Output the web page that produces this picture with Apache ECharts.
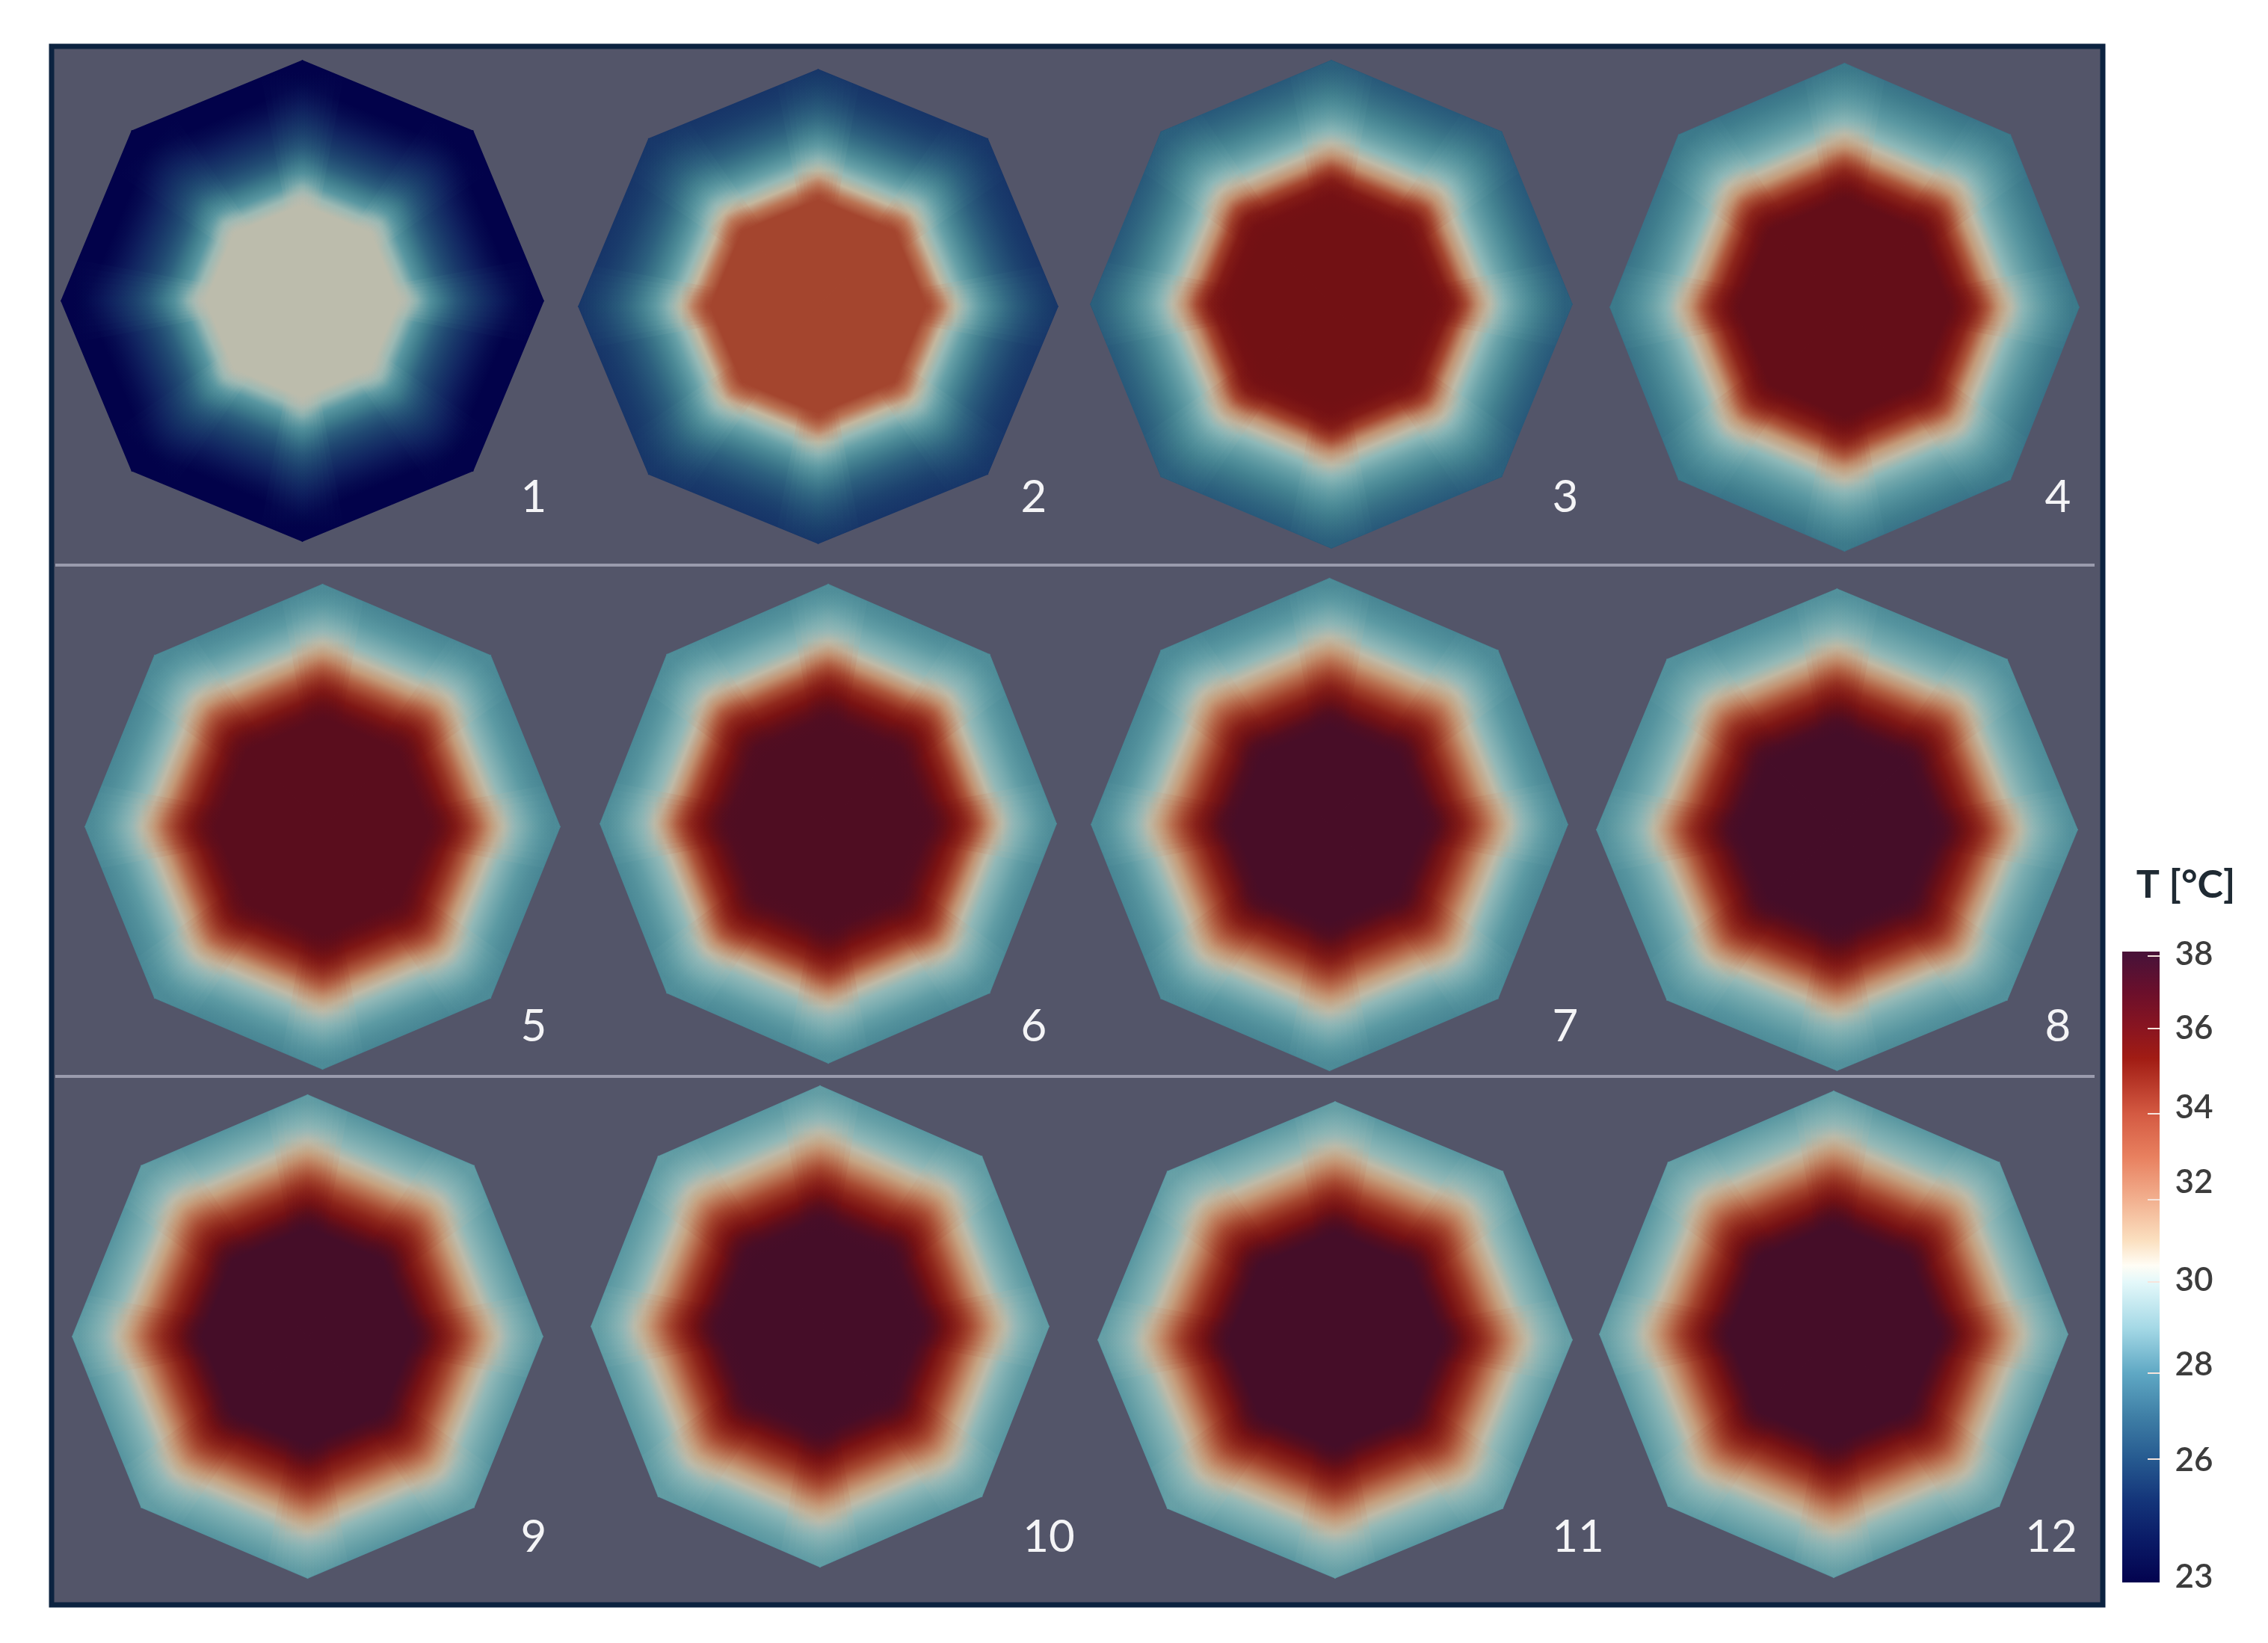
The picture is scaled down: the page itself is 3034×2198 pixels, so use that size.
<!DOCTYPE html>
<html>
<head>
<meta charset="utf-8">
<style>
  html, body { margin: 0; background: #fff; }
  #main { width: 3034px; height: 2198px; }
</style>
<script src="https://cdn.jsdelivr.net/npm/echarts@6/dist/echarts.min.js"></script>
</head>
<body>
<div id="main"></div>
<script>
const panelNames = ['1', '2', '3', '4', '5', '6', '7', '8', '9', '10', '11', '12'];

// fraction of the way from centre to edge where the temperatures below are read
const radialStops = [0, 0.35, 0.40, 0.45, 0.50, 0.55, 0.60, 0.65, 0.70, 0.75, 0.80, 0.85, 0.90, 0.95, 1];

const tempPanel1 = [30, 30, 30, 29.3, 27.9, 27, 26.1, 25.4, 24.8, 24.2, 23.7, 23.3, 23, 23, 23];
const tempPanel2 = [34.2, 34.2, 34.2, 34.2, 33, 30.6, 29.2, 28.2, 27.4, 26.7, 26.1, 25.6, 25.2, 24.9, 24.7];
const tempPanel3 = [36.3, 36.3, 36.3, 36.2, 35.6, 34.2, 32.2, 30.2, 29, 28.3, 27.7, 27.1, 26.6, 26.2, 25.9];
const tempPanel4 = [36.8, 36.8, 36.8, 36.8, 36.2, 35.2, 33.8, 32, 30.2, 29, 28.4, 27.9, 27.4, 27, 26.7];
const tempPanel5 = [37.2, 37.2, 37.2, 37.2, 36.7, 35.8, 34.7, 33.5, 32, 30.2, 29.1, 28.5, 28, 27.6, 27.3];
const tempPanel6 = [37.6, 37.6, 37.6, 37.5, 36.9, 36, 35, 33.8, 32.2, 30.2, 29.1, 28.6, 28.1, 27.7, 27.4];
const tempPanel7 = [37.9, 37.9, 37.9, 37.5, 36.5, 35.5, 34.4, 33.2, 31.9, 30.2, 29.1, 28.5, 28, 27.6, 27.3];
const tempPanel8 = [38, 38, 38, 37.7, 36.8, 35.8, 34.8, 33.6, 32.2, 30.4, 29.2, 28.6, 28.2, 27.8, 27.5];
const tempPanel9 = [38, 38, 38, 38, 37.3, 36.2, 35.2, 34.2, 33, 31.7, 30.1, 29.1, 28.6, 28.2, 27.8];
const tempPanel10 = [38, 38, 38, 37.9, 37.2, 36.1, 35.1, 34.1, 32.9, 31.6, 30.1, 29.1, 28.6, 28.2, 27.9];
const tempPanel11 = [38, 38, 38, 38, 37.3, 36.2, 35.2, 34.2, 33, 31.8, 30.2, 29.2, 28.7, 28.3, 27.9];
const tempPanel12 = [38, 38, 38, 38, 37.3, 36.2, 35.2, 34.2, 33, 31.8, 30.2, 29.2, 28.7, 28.3, 27.9];

const panelTemps = [
  tempPanel1, tempPanel2, tempPanel3, tempPanel4, tempPanel5, tempPanel6,
  tempPanel7, tempPanel8, tempPanel9, tempPanel10, tempPanel11, tempPanel12
];

// colorbar ticks
const tickValues = [38, 36, 34, 32, 30, 28, 26, 23];
const tickY = [1279, 1376, 1490, 1605, 1715, 1837, 1952, 2117];
const tickLabelY = [1277, 1376, 1482, 1582, 1713, 1826, 1954, 2110];

// layout, in picture pixels: left, right, top, bottom of each octagon
const panelBoxes = [
  [82, 727, 81, 724], [774, 1415, 93, 727], [1459, 2103, 81, 733], [2154, 2781, 85, 737],
  [114, 749, 782, 1430], [803, 1413, 782, 1422], [1460, 2097, 774, 1432], [2136, 2779, 788, 1432],
  [97, 726, 1465, 2111], [791, 1403, 1453, 2096], [1469, 2103, 1474, 2111], [2140, 2766, 1460, 2110]
];
const labelPos = [
  [714, 666], [1383, 666], [2094, 666], [2753, 666],
  [714, 1374], [1383, 1374], [2094, 1374], [2753, 1374],
  [714, 2057], [1403, 2057], [2111, 2057], [2744, 2057]
];

// colours seen inside the octagons, one per degree from 23 to 38
const fieldColors = [
  '#02024a', '#10215f', '#1a3d6c', '#2a5c7c', '#3f7d8d', '#5c9aa3', '#8db8b8', '#bcbcac',
  '#c9b394', '#c49a78', '#ba7353', '#a94c32', '#90281c', '#7a1212', '#5f0d1a', '#450d28'
];
// colours of the colorbar, top to bottom
const barTemps = [38, 37, 36, 35.3, 34, 33, 32, 31, 30.4, 30, 29, 28, 27, 26, 25, 24, 23];
const barColors = [
  '#4a1238', '#6b0f2b', '#8a1520', '#a11c14', '#d45a42', '#e8805f', '#f2b08f', '#fbe0c0', '#fffdf5',
  '#e4f8fa', '#a5d9e6', '#5fa8c4', '#3f7fa6', '#265a90', '#14357a', '#0a1a66', '#03034f'
];

// how far the field runs out along the corner spokes, per panel (top/bottom/left/right corners)
const spokeBulges = [0.06, 0.04, 0.02, 0.02, 0.02, 0.02, 0.02, 0.02, 0.02, 0.02, 0.02, 0.02];
const diagonalShare = 0.3;
const spokeWidths = [0.24, 0.2, 0.16, 0.12, 0.08, 0.04];

function fieldColor(t) {
  return echarts.color.lerp((t - 23) / 15, fieldColors);
}

function tempToY(t) {
  for (let i = 0; i < tickValues.length - 1; i++) {
    if (t <= tickValues[i] && t >= tickValues[i + 1]) {
      const f = (tickValues[i] - t) / (tickValues[i] - tickValues[i + 1]);
      return tickY[i] + f * (tickY[i + 1] - tickY[i]);
    }
  }
  return t > 38 ? tickY[0] : tickY[tickY.length - 1];
}

function gradient(c, p, temps, scale) {
  const stops = [];
  radialStops.forEach((s, i) => {
    if (s * scale <= 1) stops.push({ offset: s * scale, color: fieldColor(temps[i]) });
  });
  return new echarts.graphic.LinearGradient(c[0], c[1], p[0], p[1], stops, true);
}

function renderPanel(params, api) {
  const i = api.value(0);
  const box = panelBoxes[i];
  const temps = panelTemps[i];
  const cx = (box[0] + box[1]) / 2, cy = (box[2] + box[3]) / 2;
  const rx = (box[1] - box[0]) / 2, ry = (box[3] - box[2]) / 2;
  const c = api.coord([cx, cy]);
  const verts = [];
  for (let k = 0; k < 8; k++) {
    const a = k * Math.PI / 4;
    verts.push(api.coord([cx + rx * Math.sin(a), cy - ry * Math.cos(a)]));
  }
  const children = [];
  // eight wedges, colour runs along the normal of the outer edge
  for (let k = 0; k < 8; k++) {
    const A = verts[k], B = verts[(k + 1) % 8];
    const dx = B[0] - A[0], dy = B[1] - A[1];
    const u = ((c[0] - A[0]) * dx + (c[1] - A[1]) * dy) / (dx * dx + dy * dy);
    const foot = [A[0] + u * dx, A[1] + u * dy];
    const g = gradient(c, foot, temps, 1);
    children.push({
      type: 'polygon',
      shape: { points: [c, A, B] },
      style: { fill: g, stroke: g, lineWidth: 1.5 }
    });
  }
  // the field runs a bit further out along the spokes to the corners
  for (let k = 0; k < 8; k++) {
    const V = verts[k], P = verts[(k + 7) % 8], N = verts[(k + 1) % 8];
    const bulge = spokeBulges[i] * (k % 2 === 0 ? 1 : diagonalShare);
    const g = gradient(c, V, temps, 1 + bulge);
    spokeWidths.forEach(w => {
      children.push({
        type: 'polygon',
        shape: {
          points: [
            c,
            [V[0] + w * (P[0] - V[0]), V[1] + w * (P[1] - V[1])],
            V,
            [V[0] + w * (N[0] - V[0]), V[1] + w * (N[1] - V[1])]
          ]
        },
        style: { fill: g, opacity: 0.14 }
      });
    });
  }
  return { type: 'group', children: children };
}

function renderFrame(params, api) {
  const a = api.coord([69, 62]), b = api.coord([2813, 2147]);
  const line = y => ({
    type: 'line',
    shape: { x1: api.coord([74, y])[0], y1: api.coord([74, y])[1], x2: api.coord([2802, y])[0], y2: api.coord([2802, y])[1] },
    style: { stroke: '#9a9bad', lineWidth: 4 }
  });
  return {
    type: 'group',
    children: [
      { type: 'rect', shape: { x: a[0], y: a[1], width: b[0] - a[0], height: b[1] - a[1] },
        style: { fill: '#535569', stroke: '#0c2340', lineWidth: 7 } },
      line(756), line(1440)
    ]
  };
}

function renderLabel(params, api) {
  const i = api.value(0);
  const p = api.coord(labelPos[i]);
  return {
    type: 'text',
    x: p[0], y: p[1],
    style: { text: panelNames[i], fill: '#f4f4f6', font: '60px Lato', textAlign: 'center', textVerticalAlign: 'middle' }
  };
}

function renderBar(params, api) {
  const a = api.coord([2839, 1273]), b = api.coord([2889, 2117]);
  const stops = barTemps.map((t, i) => ({ offset: (tempToY(t) - 1273) / (2117 - 1273), color: barColors[i] }));
  const children = [{
    type: 'rect',
    shape: { x: a[0], y: a[1], width: b[0] - a[0], height: b[1] - a[1] },
    style: { fill: new echarts.graphic.LinearGradient(0, a[1], 0, b[1], stops, true) }
  }];
  tickValues.forEach((v, i) => {
    if (i < tickValues.length - 1) {
      const t = api.coord([2889, tickY[i]]);
      children.push({ type: 'line', shape: { x1: t[0] - 16, y1: t[1], x2: t[0], y2: t[1] }, style: { stroke: '#f6e4dc', lineWidth: 2 } });
    }
    const l = api.coord([2935, tickLabelY[i]]);
    children.push({
      type: 'text', x: l[0], y: l[1],
      style: { text: String(v), fill: '#3c3c3c', font: '600 44px Lato', textAlign: 'center', textVerticalAlign: 'middle' }
    });
  });
  const h = api.coord([2924, 1184]);
  children.push({
    type: 'text', x: h[0], y: h[1],
    style: { text: 'T [°C]', fill: '#1f2a33', font: 'bold 52px Lato', textAlign: 'center', textVerticalAlign: 'middle' }
  });
  return { type: 'group', children: children };
}

const myChart = echarts.init(document.getElementById('main'));
const indexData = panelNames.map((n, i) => [i]);
myChart.setOption({
  animation: false,
  backgroundColor: '#ffffff',
  grid: { left: 0, right: 0, top: 0, bottom: 0 },
  xAxis: { type: 'value', min: 0, max: 3034, show: false },
  yAxis: { type: 'value', min: 0, max: 2198, inverse: true, show: false },
  series: [
    { type: 'custom', name: 'frame', clip: false, silent: true, renderItem: renderFrame, data: [[0]] },
    { type: 'custom', name: 'panels', clip: false, silent: true, renderItem: renderPanel, data: indexData },
    { type: 'custom', name: 'labels', clip: false, silent: true, renderItem: renderLabel, data: indexData },
    { type: 'custom', name: 'colorbar', clip: false, silent: true, renderItem: renderBar, data: [[0]] }
  ]
});
</script>
</body>
</html>
